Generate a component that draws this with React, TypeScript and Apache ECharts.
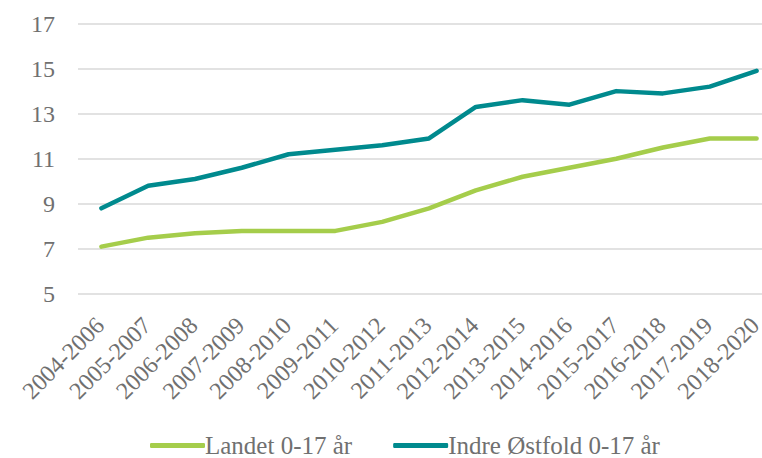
import React, { useEffect, useRef } from "react";
import * as echarts from "echarts";

const categories = [
  "2004-2006", "2005-2007", "2006-2008", "2007-2009", "2008-2010",
  "2009-2011", "2010-2012", "2011-2013", "2012-2014", "2013-2015",
  "2014-2016", "2015-2017", "2016-2018", "2017-2019", "2018-2020",
];
const landet = [7.1, 7.5, 7.7, 7.8, 7.8, 7.8, 8.2, 8.8, 9.6, 10.2, 10.6, 11.0, 11.5, 11.9, 11.9];
const indreOstfold = [8.8, 9.8, 10.1, 10.6, 11.2, 11.4, 11.6, 11.9, 13.3, 13.6, 13.4, 14.0, 13.9, 14.2, 14.9];
const seriesNames = ["Landet 0-17 år", "Indre Østfold 0-17 år"];

const FONT = "'Liberation Serif', Cambria, serif";
const TEXT = "#707070";

export default function App() {
  const ref = useRef<HTMLDivElement>(null);
  useEffect(() => {
    if (!ref.current) return;
    const chart = echarts.init(ref.current, undefined, { renderer: "svg" });
    chart.setOption({
      animation: false,
      backgroundColor: "#ffffff",
      textStyle: { fontFamily: FONT },
      grid: {
        left: 78,
        top: 23.5,
        height: 270.5,
        width: 702,
        containLabel: false,
        outerBoundsMode: "none",
      },
      legend: {
        left: 145,
        top: 428,
        icon: "roundRect",
        itemWidth: 55,
        itemHeight: 5,
        itemGap: 41,
        textStyle: { fontFamily: FONT, fontSize: 25, color: TEXT, padding: [0, 0, 0, -5] },
        data: seriesNames,
      },
      xAxis: {
        type: "category",
        data: categories,
        boundaryGap: true,
        axisLine: { show: false },
        axisTick: { show: false },
        axisLabel: {
          rotate: 45,
          interval: 0,
          margin: 9,
          verticalAlign: "top",
          padding: [0, 14, 0, 0],
          fontFamily: FONT,
          fontSize: 24,
          color: TEXT,
        },
      },
      yAxis: {
        type: "value",
        min: 5,
        max: 17,
        interval: 2,
        axisLine: { show: false },
        axisTick: { show: false },
        axisLabel: { margin: 23, fontFamily: FONT, fontSize: 24, color: TEXT },
        splitLine: { lineStyle: { color: "#d9d9d9", width: 1.5 } },
      },
      series: [
        {
          name: seriesNames[0],
          type: "line",
          data: landet,
          symbol: "none",
          itemStyle: { color: "#a5cd4b" },
          lineStyle: { color: "#a5cd4b", width: 4.5, cap: "round", join: "round" },
        },
        {
          name: seriesNames[1],
          type: "line",
          data: indreOstfold,
          symbol: "none",
          itemStyle: { color: "#008a8e" },
          lineStyle: { color: "#008a8e", width: 4.5, cap: "round", join: "round" },
        },
      ],
    });
    return () => chart.dispose();
  }, []);
  return <div ref={ref} style={{ width: 762, height: 458, position: "absolute", left: 0, top: 0 }} />;
}
